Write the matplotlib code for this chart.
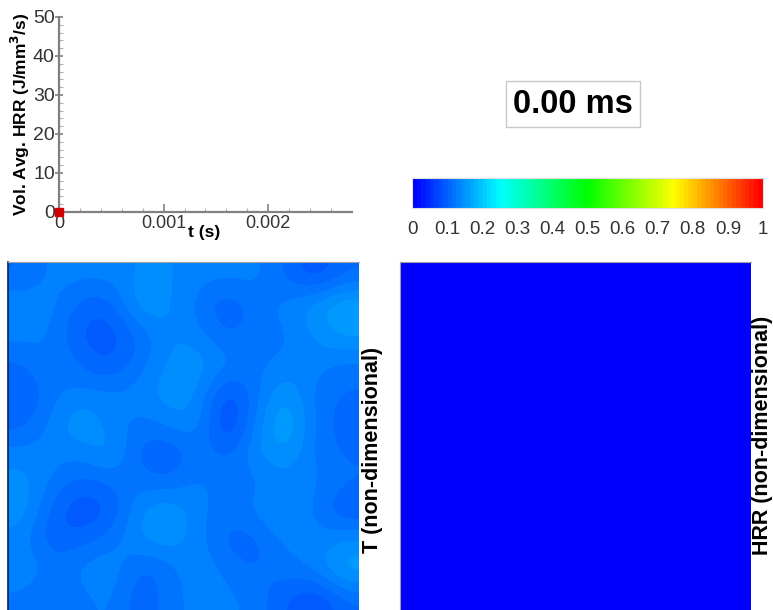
import numpy as np
import matplotlib
matplotlib.use('Agg')
import matplotlib.pyplot as plt
from matplotlib.colors import LinearSegmentedColormap, BoundaryNorm

plt.rcParams['font.family'] = ['Liberation Sans', 'DejaVu Sans']

# history of volume-averaged HRR (only the first sample so far)
t_hist = [0.0]
hrr_hist = [0.0]
x_ticks = [0, 0.001, 0.002]
x_tick_labels = ['0', '0.001', '0.002']
y_ticks = [0, 10, 20, 30, 40, 50]
time_label = '0.00 ms'
cbar_ticks = [0, 0.1, 0.2, 0.3, 0.4, 0.5, 0.6, 0.7, 0.8, 0.9, 1]
cbar_tick_labels = ['0', '0.1', '0.2', '0.3', '0.4', '0.5', '0.6', '0.7', '0.8', '0.9', '1']

# coarse samples of the temperature field (rows top -> bottom)
T_field = [
    [0.11, 0.13, 0.13, 0.13, 0.14, 0.14, 0.13, 0.13, 0.13, 0.11, 0.085, 0.11],
    [0.14, 0.13, 0.105, 0.10, 0.155, 0.14, 0.12, 0.095, 0.12, 0.13, 0.15, 0.17],
    [0.13, 0.125, 0.095, 0.09, 0.11, 0.14, 0.13, 0.11, 0.12, 0.12, 0.14, 0.155],
    [0.11, 0.13, 0.11, 0.095, 0.12, 0.14, 0.15, 0.13, 0.12, 0.13, 0.13, 0.12],
    [0.095, 0.12, 0.13, 0.13, 0.13, 0.15, 0.14, 0.085, 0.12, 0.155, 0.12, 0.11],
    [0.105, 0.13, 0.155, 0.13, 0.12, 0.13, 0.14, 0.07, 0.13, 0.175, 0.12, 0.105],
    [0.13, 0.13, 0.13, 0.15, 0.105, 0.095, 0.12, 0.105, 0.14, 0.155, 0.12, 0.11],
    [0.145, 0.125, 0.105, 0.115, 0.12, 0.11, 0.13, 0.12, 0.12, 0.13, 0.13, 0.115],
    [0.15, 0.105, 0.085, 0.095, 0.14, 0.155, 0.13, 0.115, 0.13, 0.15, 0.12, 0.095],
    [0.13, 0.10, 0.105, 0.12, 0.14, 0.15, 0.13, 0.105, 0.105, 0.13, 0.13, 0.14],
    [0.14, 0.12, 0.13, 0.14, 0.105, 0.115, 0.14, 0.12, 0.11, 0.12, 0.13, 0.165],
    [0.12, 0.11, 0.12, 0.13, 0.10, 0.12, 0.13, 0.13, 0.12, 0.10, 0.08, 0.11],
]
# heat release field is still zero everywhere
HRR_field = [
    [0.0, 0.0],
    [0.0, 0.0],
]

# Tecplot-like "small rainbow", banded
rainbow = LinearSegmentedColormap.from_list(
    'small_rainbow', ['#0000ff', '#00ffff', '#00ff00', '#ffff00', '#ff0000'])
levels = np.linspace(0, 1, 81)
cmap = rainbow.resampled(80)
norm = BoundaryNorm(levels, cmap.N)

fig = plt.figure(figsize=(7.73, 6.10), dpi=100)

# ---- HRR history ----
axc = '#808080'
ax = fig.add_axes([0.0763, 0.6525, 0.379, 0.3197])
ax.plot(t_hist, hrr_hist, 's', color='#d40000', markersize=6, clip_on=False, zorder=5)
ax.set_xlim(0, 0.0028)
ax.set_ylim(0, 50)
ax.set_xticks(x_ticks)
ax.set_xticklabels(x_tick_labels)
ax.set_yticks(y_ticks)
ax.set_xticks(np.arange(0, 0.0028, 0.0002), minor=True)
ax.set_yticks(np.arange(0, 50, 2), minor=True)
for s in ['top', 'right']:
    ax.spines[s].set_visible(False)
for s in ['left', 'bottom']:
    ax.spines[s].set_color(axc)
    ax.spines[s].set_linewidth(1.6)
ax.tick_params(axis='x', which='major', direction='in', length=6, width=1.2,
               colors=axc, labelcolor='#333333', labelsize=13, pad=2)
ax.tick_params(axis='y', which='major', direction='inout', length=6, width=1.2,
               colors=axc, labelcolor='#333333', labelsize=14, pad=0)
ax.tick_params(which='minor', direction='in', length=3, width=0.8, colors='#b0b0b0')
ax.set_ylabel('Vol. Avg. HRR (J/mm$^\\mathbf{3}$/s)', fontsize=12.5, fontweight='bold')
ax.yaxis.set_label_coords(-0.093, 0.5)
ax.text(0.00139, -0.105, 't (s)', transform=ax.get_xaxis_transform(),
        ha='center', va='center', fontsize=12.5, fontweight='bold')

# ---- time stamp ----
fig.text(0.7413, 0.8295, time_label, ha='center', va='center', fontsize=23.5,
         fontweight='bold',
         bbox=dict(boxstyle='square,pad=0.22', facecolor='white', edgecolor='#c8c8c8',
                   linewidth=1))

# ---- colorbar ----
cax = fig.add_axes([0.533, 0.659, 0.454, 0.049])
cbar_vals = np.linspace(0, 1, 512)
cax.imshow([cbar_vals], cmap=cmap, norm=norm, aspect='auto', extent=[0, 1, 0, 1])
cax.set_xlim(0, 1)
cax.set_yticks([])
cax.set_xticks(cbar_ticks)
cax.set_xticklabels(cbar_tick_labels)
cax.tick_params(axis='x', length=0, labelsize=13.5, labelcolor='#333333', pad=9)
for s in cax.spines.values():
    s.set_color('#e0e0e0')
    s.set_linewidth(0.8)

# ---- temperature field ----
axT = fig.add_axes([0.01035, -0.0049, 0.454, 0.5754])
axT.imshow(T_field, cmap=cmap, norm=norm, interpolation='bicubic',
           extent=[0, 1, 0, 1], aspect='auto')
axT.set_xticks([])
axT.set_yticks([])
for s in ['right', 'bottom']:
    axT.spines[s].set_visible(False)
axT.spines['top'].set_color('#a0a0a0')
axT.spines['left'].set_color('#10204a')
axT.spines['left'].set_linewidth(1.2)
fig.text(0.4825, 0.262, 'T (non-dimensional)', rotation=90, ha='center', va='center',
         fontsize=15.5, fontweight='bold')

# ---- heat release field ----
axH = fig.add_axes([0.5175, -0.0049, 0.454, 0.5754])
axH.imshow(HRR_field, cmap=cmap, norm=norm, interpolation='nearest',
           extent=[0, 1, 0, 1], aspect='auto')
axH.set_xticks([])
axH.set_yticks([])
for s in ['right', 'bottom']:
    axH.spines[s].set_visible(False)
for s in ['top', 'left']:
    axH.spines[s].set_color('#a0a0a0')
fig.text(0.987, 0.287, 'HRR (non-dimensional)', rotation=90, ha='center', va='center',
         fontsize=15.5, fontweight='bold')

fig.savefig('out.png', dpi=100)
